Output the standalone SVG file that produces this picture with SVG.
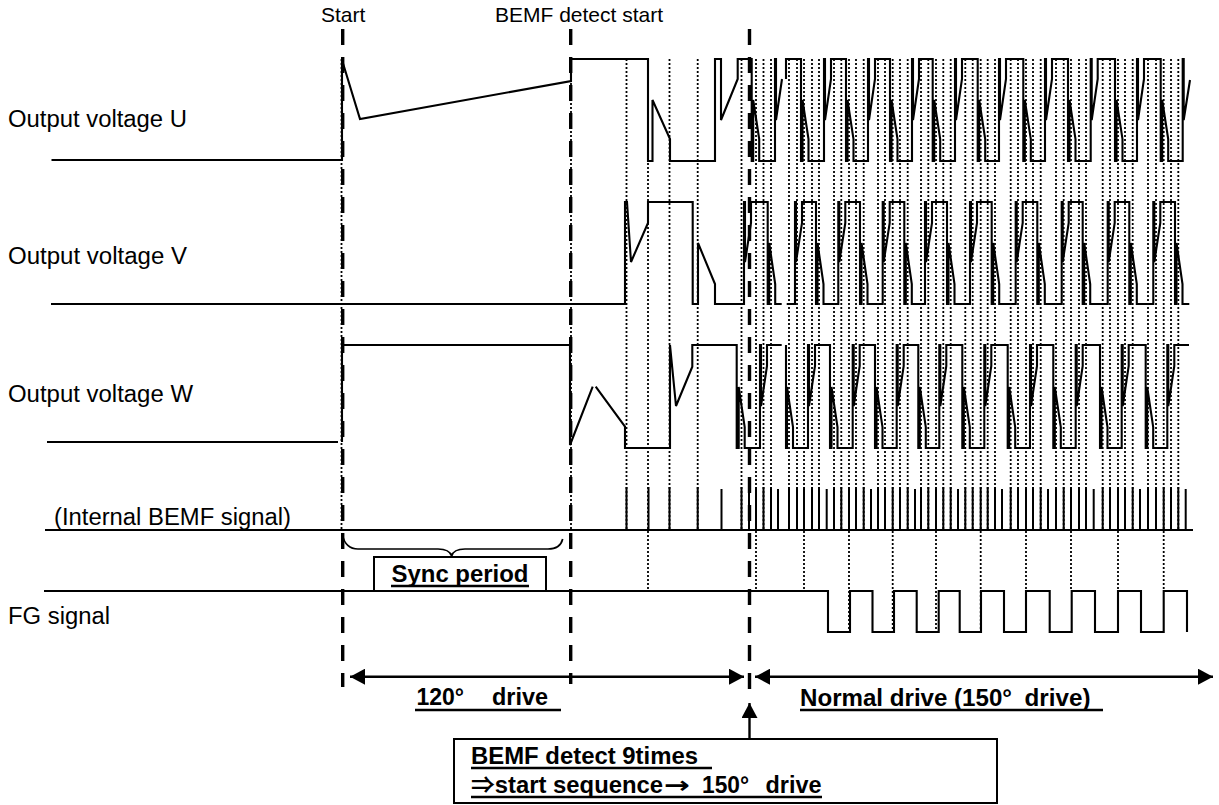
<svg xmlns="http://www.w3.org/2000/svg" width="1219" height="805" viewBox="0 0 1219 805">
<style>
text{font-family:"Liberation Sans","Noto Sans CJK JP",sans-serif;fill:#000;white-space:pre}
.l{font-size:23px}
.t{font-size:21px}
.b{font-size:23px;font-weight:bold}
.w{fill:none;stroke:#000;stroke-width:2.1;stroke-linejoin:miter}
.d{fill:none;stroke:#000;stroke-width:1.8;stroke-dasharray:2 2}
.i{fill:none;stroke:#000;stroke-width:2}
.p{fill:none;stroke:#000;stroke-width:3.4;stroke-dasharray:16 12}
.u{fill:none;stroke:#000;stroke-width:2.6}
.a{fill:none;stroke:#000;stroke-width:2.4}
.box{fill:#fff;stroke:#000;stroke-width:2}
</style>
<defs>
<marker id="ah" markerUnits="userSpaceOnUse" markerWidth="16" markerHeight="16" refX="15" refY="8" orient="auto-start-reverse"><path d="M0,0L15,8L0,16z" fill="#000"/></marker>
</defs>
<g id="connectors">
<path id="dotted" class="d" d="M341.5,59V530M571,59V530M626.5,59V530M648,59V591M669.5,59V530M697.7,59V530M741.5,59V530M756,59V591M763.5,59V530M771,59V530M789,59V530M797,59V530M804,59V591M812,59V530M819,59V530M834,59V530M841.3,59V530M849,59V632M856,59V530M863.7,59V530M878,59V530M885,59V530M892.7,59V632M900,59V530M907.7,59V530M921,59V530M928.3,59V530M936,59V632M943.3,59V530M950.7,59V530M965.3,59V530M972.7,59V530M980.7,59V632M987.7,59V530M995,59V530M1010.7,59V530M1018,59V530M1026,59V591M1033,59V530M1040.7,59V530M1056,59V530M1063.7,59V530M1071,59V591M1079,59V530M1086,59V530M1102.7,59V530M1110,59V530M1118,59V591M1125,59V530M1132.7,59V530M1148,59V530M1156,59V530M1163.7,59V591M1171,59V530M1178.3,59V530"/>
<path id="impulses" class="i" d="M626.5,487V530M648.5,487V530M669.5,487V530M697.7,487V530M721.5,489V530M741.5,487V530M749,487V530M756,487V530M763.5,487V530M771,487V530M778,489V530M789,487V530M797,487V530M804,487V530M812,487V530M819,487V530M826.7,489V530M834,487V530M841.3,487V530M849,487V530M856,487V530M863.7,487V530M871,489V530M878,487V530M885,487V530M892.7,487V530M900,487V530M907.7,487V530M915,489V530M921,487V530M928.3,487V530M936,487V530M943.3,487V530M950.7,487V530M958,489V530M965.3,487V530M972.7,487V530M980.7,487V530M987.7,487V530M995,487V530M1002,489V530M1010.7,487V530M1018,487V530M1026,487V530M1033,487V530M1040.7,487V530M1048,489V530M1056,487V530M1063.7,487V530M1071,487V530M1079,487V530M1086,487V530M1093.7,489V530M1102.7,487V530M1110,487V530M1118,487V530M1125,487V530M1132.7,487V530M1140,489V530M1148,487V530M1156,487V530M1163.7,487V530M1171,487V530M1178.3,487V530M1185.7,489V530"/>
<path id="wave-u" class="w" d="M51.5,160H342V60L360,119L571,81V59H648V161h4.5V100L670,139V161H715V59h6V120L737.7,79V59H751.7V161h1.5V100l6,39V161H775V59h1V120l6,-41M786,79V59H801V161h1.5V100l6,39V161H824V59h1V120l6,-41V59H846V161h1.5V100l6,39V161H868V59h1V120l6,-41V59H890V161h1.5V100l6,39V161H912V59h1V120l6,-41V59H932.7V161h1.5V100l6,39V161H955V59h1V120l6,-41V59H977.7V161h1.5V100l6,39V161H999V59h1V120l6,-41V59H1023.3V161h1.5V100l6,39V161H1045V59h1V120l6,-41V59H1068V161h1.5V100l6,39V161H1090.7V59h1V120l6,-41V59H1115V161h1.5V100l6,39V161H1137V59h1V120l6,-41V59H1160.7V161h1.5V100l6,39V161H1182.7V59h1V120l6.3,-40"/>
<path id="wave-v" class="w" d="M51,304H625V202h2L631,262L648,223V202H692.7V304H698V243L715,284V304H744V202h1V262l6,-39V202H767.7V304h1.5V243l6,41V304H781.7M786.7,304H795V202h1V262l6,-39V202H816V304h1.5V243l6,41V304H838.3V202h1V262l6,-39V202H860V304h1.5V243l6,41V304H882.7V202h1V262l6,-39V202H904.3V304h1.5V243l6,41V304H925V202h1V262l6,-39V202H947V304h1.5V243l6,41V304H970V202h1V262l6,-39V202H991.7V304h1.5V243l6,41V304H1015.7V202h1V262l6,-39V202H1037.3V304h1.5V243l6,41V304H1061.7V202h1V262l6,-39V202H1082.7V304h1.5V243l6,41V304H1107.7V202h1V262l6,-39V202H1129.3V304h1.5V243l6,41V304H1153.3V202h1V262l6,-39V202H1175V304h1.5V243l6,41V304H1189.3"/>
<path id="wave-w" class="w" d="M47,442H338M342,442V345H570V445L592.7,386.7M595.7,386.7L625,426.7V448H670V345L676,406L692.3,366.7V345H736.7V448h2V387l6,40V448H760V345h1V406l6,-40V345H781.7M786,345V448h1V387l6,40V448H808V345h1V406l6,-40V345H830V448h1.5V387l6,40V448H852.7V345h1V406l6,-40V345H875V448h1.5V387l6,40V448H896.7V345h1V406l6,-40V345H918.3V448h1.5V387l6,40V448H939.3V345h1V406l6,-40V345H962.3V448h1.5V387l6,40V448H984.3V345h1V406l6,-40V345H1007.7V448h1.5V387l6,40V448H1030V345h1V406l6,-40V345H1053.3V448h1.5V387l6,40V448H1075.7V345h1V406l6,-40V345H1100V448h1.5V387l6,40V448H1121.7V345h1V406l6,-40V345H1145.7V448h1.5V387l6,40V448H1167.3V345h1V406l6,-40V345H1189"/>
<path id="bemf-base" class="w" d="M45,530H1193"/>
<path id="fg-wave" class="w" d="M44,591H828V632H850V591H872.5V632H894V591H916.7V632H938.7V591H959.7V632H981V591H1004V632H1026V591H1049.7V632H1071.7V591H1095V632H1118V591H1141V632H1163.7V591H1187V632"/>
<path id="phase-start" class="p" d="M342.7,29V687"/>
<path id="phase-bemf" class="p" d="M570.7,29V684"/>
<path id="phase-normal" class="p" d="M749.5,29V690"/>
<path id="sync-brace" class="a" style="stroke-width:1.7" d="M342.7,535C344,544 350,549 358,549H438C446,549 450,551 451.7,556C453,551 457,549 465,549H548C556,549 561,546 562.7,539"/>
<path id="arrow-120" class="a" marker-start="url(#ah)" marker-end="url(#ah)" d="M350,676.7H744"/>
<path id="arrow-normal" class="a" marker-start="url(#ah)" marker-end="url(#ah)" d="M755,676.7H1213"/>
<path id="arrow-up" class="a" marker-end="url(#ah)" d="M749.5,739V703"/>
</g>
<g id="label-start"><text class="t" x="321" y="22">Start</text></g>
<g id="label-bemf-start"><text class="t" x="495" y="22">BEMF detect start</text></g>
<g id="label-u"><text class="l" x="8" y="127" textLength="179" lengthAdjust="spacingAndGlyphs">Output voltage U</text></g>
<g id="label-v"><text class="l" x="8" y="264" textLength="179" lengthAdjust="spacingAndGlyphs">Output voltage V</text></g>
<g id="label-w"><text class="l" x="8" y="402" textLength="185" lengthAdjust="spacingAndGlyphs">Output voltage W</text></g>
<g id="label-bemf"><text class="l" x="54" y="525" textLength="237" lengthAdjust="spacingAndGlyphs">(Internal BEMF signal)</text></g>
<g id="label-fg"><text class="l" x="8" y="624" textLength="102" lengthAdjust="spacingAndGlyphs">FG signal</text></g>
<g id="sync-period">
<rect class="box" x="374" y="557" width="172" height="34"/>
<text class="b" x="391.5" y="581.5" textLength="137" lengthAdjust="spacingAndGlyphs">Sync period</text>
<path class="u" d="M391,586H529"/>
</g>
<g id="label-120">
<text class="b" x="416.5" y="705">120°</text><text class="b" x="492" y="705" textLength="56" lengthAdjust="spacingAndGlyphs">drive</text>
<path class="u" d="M415,710H561"/>
</g>
<g id="label-normal">
<text class="b" x="800" y="706" textLength="212" lengthAdjust="spacingAndGlyphs">Normal drive (150°</text><text class="b" x="1024.5" y="706" textLength="66" lengthAdjust="spacingAndGlyphs">drive)</text>
<path class="u" d="M800,710H1103"/>
</g>
<g id="note">
<rect class="box" x="454" y="739" width="543" height="64"/>
<text class="b" x="471" y="764" textLength="227" lengthAdjust="spacingAndGlyphs">BEMF detect 9times</text>
<path class="u" d="M471,768H712"/>
<text class="b" x="471" y="793" textLength="192" lengthAdjust="spacingAndGlyphs">⇒start sequence</text><text class="b" x="664" y="793" textLength="26" lengthAdjust="spacingAndGlyphs" style="font-family:'DejaVu Sans',sans-serif">→</text><text class="b" x="702" y="793" textLength="47" lengthAdjust="spacingAndGlyphs">150°</text><text class="b" x="765.5" y="793" textLength="56" lengthAdjust="spacingAndGlyphs">drive</text>
<path class="u" d="M471,797H822"/>
</g>
</svg>
